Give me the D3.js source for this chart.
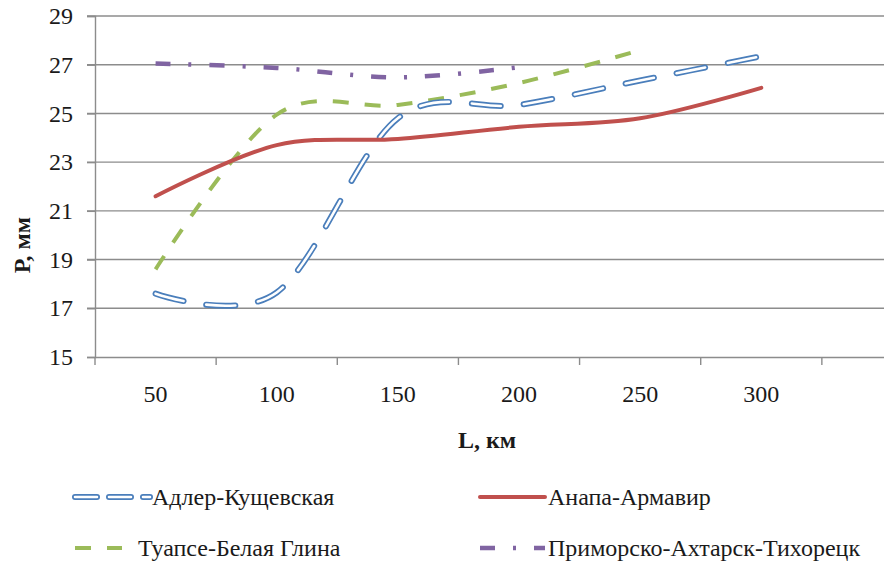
<!DOCTYPE html>
<html>
<head>
<meta charset="utf-8">
<script src="https://cdn.jsdelivr.net/npm/d3@7"></script>
<style>
  body { margin: 0; background: #fff; }
</style>
</head>
<body>
<div id="chart"></div>
<script>
'use strict';

// categories on the L axis (last one is an empty slot)
var categories = ['50', '100', '150', '200', '250', '300', ''];
var yTicks = [15, 17, 19, 21, 23, 25, 27, 29];

var adlerValues = [17.6, 17.65, 24.8, 25.35, 26.35, 27.35];
var anapaValues = [21.6, 23.7, 23.95, 24.45, 24.8, 26.05];
var tuapseValues = [18.6, 24.95, 25.35, 26.25, 27.6];
var primorskoValues = [27.05, 26.87, 26.48, 26.9];

var seriesNames = ['Адлер-Кущевская', 'Анапа-Армавир', 'Туапсе-Белая Глина', 'Приморско-Ахтарск-Тихорецк'];

var width = 884, height = 570;
var plotLeft = 95, plotTop = 16, plotRight = 943, plotBottom = 357;
var serif = 'Liberation Serif';

var svg = d3.select('#chart').append('svg')
    .attr('width', width)
    .attr('height', height)
    .style('font-family', serif);

var x = d3.scaleBand()
    .domain(categories)
    .range([plotLeft, plotRight]);

var y = d3.scaleLinear()
    .domain([15, 29])
    .range([plotBottom, plotTop]);

// horizontal gridlines
svg.append('g')
    .selectAll('line')
    .data(yTicks.slice(1))
    .enter().append('line')
    .attr('x1', plotLeft - 8)
    .attr('x2', plotRight)
    .attr('y1', function(d) { return y(d); })
    .attr('y2', function(d) { return y(d); })
    .attr('stroke', '#8c8c8c')
    .attr('stroke-width', 1.4);

// y axis
var yAxis = svg.append('g')
    .attr('transform', 'translate(' + plotLeft + ',0)')
    .call(d3.axisLeft(y).tickValues(yTicks).tickSize(8).tickPadding(14));
yAxis.style('font-family', serif).attr('font-size', 24);
yAxis.select('.domain').attr('stroke', '#8c8c8c').attr('stroke-width', 1.4);
yAxis.selectAll('.tick line').attr('stroke', '#8c8c8c').attr('stroke-width', 1.4);
yAxis.selectAll('.tick text').attr('fill', '#1a1a1a');

// x axis, ticks sit between categories
var xAxis = svg.append('g')
    .attr('transform', 'translate(0,' + plotBottom + ')')
    .call(d3.axisBottom(x).tickSize(0).tickPadding(28));
xAxis.style('font-family', serif).attr('font-size', 24);
xAxis.select('.domain').attr('stroke', '#8c8c8c').attr('stroke-width', 1.4);
xAxis.selectAll('.tick text').attr('fill', '#1a1a1a');
svg.append('g')
    .selectAll('line')
    .data(categories)
    .enter().append('line')
    .attr('x1', function(d) { return x(d); })
    .attr('x2', function(d) { return x(d); })
    .attr('y1', plotBottom)
    .attr('y2', plotBottom + 8)
    .attr('stroke', '#8c8c8c')
    .attr('stroke-width', 1.4);

// axis titles
svg.append('text')
    .attr('x', 487)
    .attr('y', 448)
    .attr('text-anchor', 'middle')
    .attr('font-size', 24)
    .attr('font-weight', 'bold')
    .attr('fill', '#1a1a1a')
    .text('L, км');

svg.append('text')
    .attr('transform', 'translate(30,' + 245 + ') rotate(-90)')
    .attr('text-anchor', 'middle')
    .attr('font-size', 24)
    .attr('font-weight', 'bold')
    .attr('fill', '#1a1a1a')
    .text('Р, мм');

var line = d3.line()
    .x(function(d, i) { return x(categories[i]) + x.bandwidth() / 2; })
    .y(function(d) { return y(d); })
    .curve(d3.curveCardinal.tension(0));

// series styles
var styles = [
  { values: adlerValues, layers: [
      { color: '#4a7ebb', width: 6, dash: '29,23', cap: 'round' },
      { color: '#ffffff', width: 2.6, dash: '29,23', cap: 'round' } ] },
  { values: anapaValues, layers: [
      { color: '#c0504d', width: 4, dash: null, cap: 'round' } ] },
  { values: tuapseValues, layers: [
      { color: '#9bbb59', width: 4, dash: '16,16', cap: 'butt' } ] },
  { values: primorskoValues, layers: [
      { color: '#8064a2', width: 4.5, dash: '15,18,3,18', cap: 'butt' } ] }
];

var order = [3, 2, 0, 1];
order.forEach(function(k) {
  var s = styles[k];
  s.layers.forEach(function(l) {
    svg.append('path')
        .datum(s.values)
        .attr('d', line)
        .attr('fill', 'none')
        .attr('stroke', l.color)
        .attr('stroke-width', l.width)
        .attr('stroke-linecap', l.cap)
        .attr('stroke-dasharray', l.dash);
  });
});

// legend
var legendPos = [
  { x1: 75, x2: 150, tx: 152, y: 497 },
  { x1: 480, x2: 545, tx: 548, y: 497 },
  { x1: 75, x2: 122, tx: 138, y: 548 },
  { x1: 480, x2: 545, tx: 548, y: 548 }
];

var legend = svg.append('g');
styles.forEach(function(s, i) {
  var p = legendPos[i];
  s.layers.forEach(function(l) {
    legend.append('line')
        .attr('x1', p.x1)
        .attr('x2', p.x2)
        .attr('y1', p.y)
        .attr('y2', p.y)
        .attr('stroke', l.color)
        .attr('stroke-width', l.width)
        .attr('stroke-linecap', l.cap)
        .attr('stroke-dasharray', i === 0 ? '22,12' : l.dash);
  });
  legend.append('text')
      .attr('x', p.tx)
      .attr('y', p.y)
      .attr('dy', '0.35em')
      .attr('font-size', 24)
      .attr('fill', '#1a1a1a')
      .text(seriesNames[i]);
});
</script>
</body>
</html>
